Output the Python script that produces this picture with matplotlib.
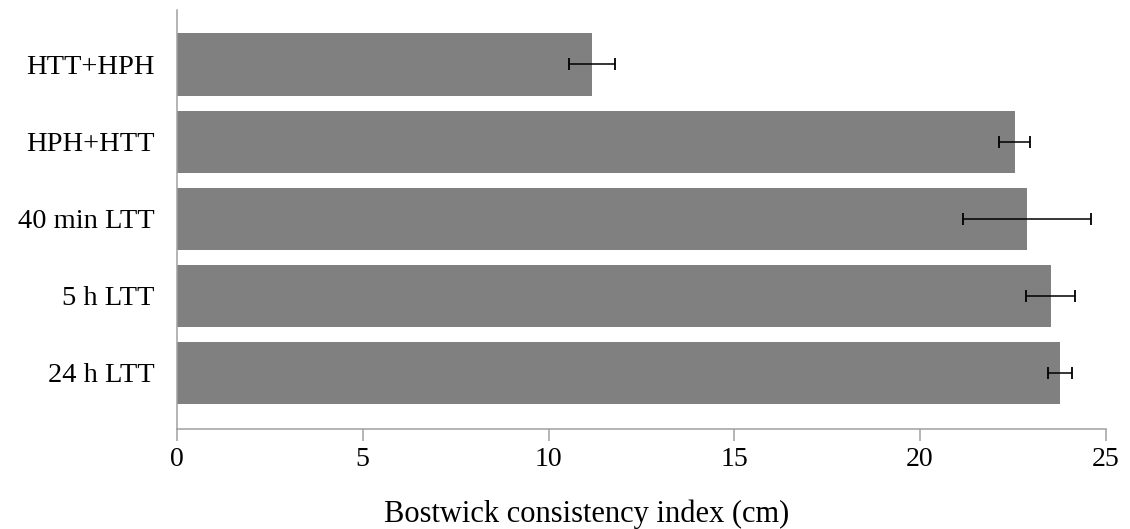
import numpy as np
import matplotlib
matplotlib.use("Agg")
import matplotlib.pyplot as plt

# Bostwick consistency per treatment (mean and error), bottom to top
treatments = ["24 h LTT", "5 h LTT", "40 min LTT", "HPH+HTT", "HTT+HPH"]
bostwick_cm = [23.76, 23.52, 22.88, 22.55, 11.18]
bostwick_err = [0.32, 0.66, 1.73, 0.42, 0.62]

plt.rcParams["font.family"] = ["Liberation Serif", "DejaVu Serif"]

fig = plt.figure(figsize=(11.3, 5.29), dpi=100)
ax = fig.add_axes([0.1566, 0.189, 0.822, 0.7912])

pos = np.arange(len(treatments))
ax.barh(pos, bostwick_cm, height=0.805, color="#808080", zorder=2)
ax.errorbar(bostwick_cm, pos, xerr=bostwick_err, fmt="none", ecolor="black",
            elinewidth=1.1, capsize=4, capthick=1.3, zorder=3)

ax.set_xlim(0, 25)
ax.set_ylim(-0.727, 4.70)
ax.set_xticks([0, 5, 10, 15, 20, 25])
ax.set_yticks(pos)
ax.set_yticklabels(treatments)

ax.spines["top"].set_visible(False)
ax.spines["right"].set_visible(False)
for side in ("left", "bottom"):
    ax.spines[side].set_color("#a0a0a0")
    ax.spines[side].set_linewidth(1.1)

ax.tick_params(axis="x", direction="out", length=8.6, width=1.1,
               color="#a0a0a0", pad=4, labelsize=20)
ax.tick_params(axis="y", length=0, pad=16, labelsize=20.5)

# axis title sits a little left of the plot centre, baseline near the bottom edge
ax.set_xlabel("Bostwick consistency index (cm)", fontsize=22, va="baseline")
ax.xaxis.set_label_coords(0.441, -0.2216)

fig.savefig("out.png", dpi=100)
